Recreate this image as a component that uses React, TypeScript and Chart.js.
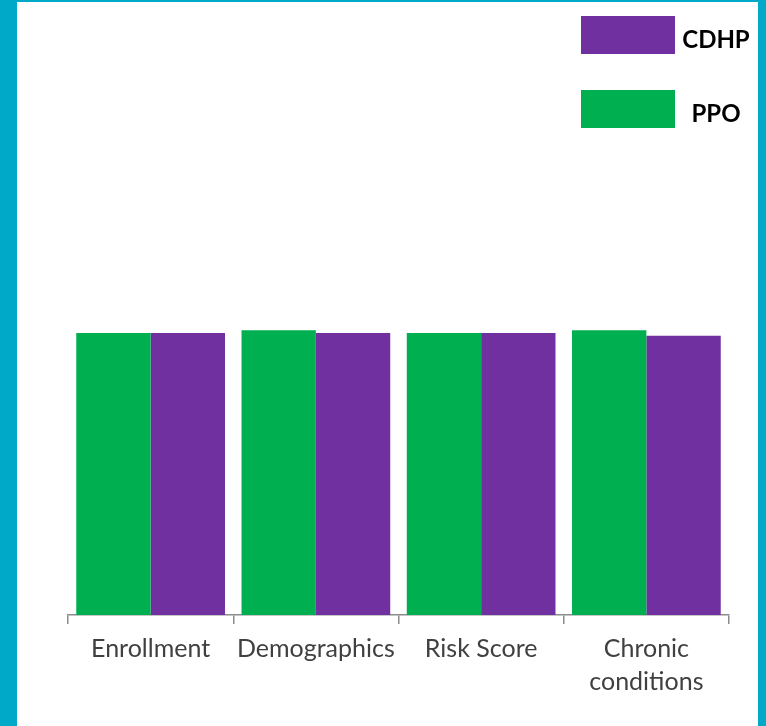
import React, { useEffect, useRef } from "react";
import { Chart, registerables } from "chart.js";

Chart.register(...registerables);

const categories: (string | string[])[] = ["Enrollment", "Demographics", "Risk Score", ["Chronic", "conditions"]];
const ppoValues = [1.0, 1.01, 1.0, 1.01];
const cdhpValues = [1.0, 1.0, 1.0, 0.99];
const seriesNames = ["PPO", "CDHP"];
const legendOrder = ["CDHP", "PPO"];

const GREEN = "#00B050";
const PURPLE = "#7030A0";
const TEAL = "#00A9C7";

export default function App() {
  const canvasRef = useRef<HTMLCanvasElement | null>(null);

  useEffect(() => {
    if (!canvasRef.current) return;
    const chart = new Chart(canvasRef.current, {
      type: "bar",
      data: {
        labels: categories,
        datasets: [
          { label: seriesNames[0], data: ppoValues, backgroundColor: GREEN, borderWidth: 0 },
          { label: seriesNames[1], data: cdhpValues, backgroundColor: PURPLE, borderWidth: 0 },
        ],
      },
      options: {
        animation: false,
        responsive: false,
        maintainAspectRatio: false,
        layout: { padding: { left: 68, right: 37, top: 51, bottom: 0 } },
        plugins: { legend: { display: false }, tooltip: { enabled: false } },
        datasets: { bar: { categoryPercentage: 0.9, barPercentage: 1.0 } },
        scales: {
          x: {
            grid: {
              offset: true,
              drawOnChartArea: false,
              drawTicks: true,
              tickLength: 9,
              color: "#8c8c8c",
              lineWidth: 1.5,
            },
            border: { display: true, color: "#8c8c8c", width: 1.5 },
            ticks: {
              color: "#404040",
              font: { family: "Lato", size: 25, lineHeight: 1.32 },
              padding: 8,
              maxRotation: 0,
              autoSkip: false,
            },
            afterFit: (scale: any) => {
              scale.height = 111;
            },
          },
          y: {
            display: false,
            min: 0,
            max: 2,
          },
        },
      },
    });
    return () => chart.destroy();
  }, []);

  const legendColors: Record<string, string> = { CDHP: PURPLE, PPO: GREEN };

  return (
    <div style={{ position: "fixed", left: 0, top: 0, width: 766, height: 726, background: "#ffffff", overflow: "hidden" }}>
      <canvas ref={canvasRef} width={766} height={726} style={{ position: "absolute", left: 0, top: 0, width: 766, height: 726 }} />
      <div style={{ position: "absolute", left: 0, top: 0, width: 17, height: 726, background: TEAL }} />
      <div style={{ position: "absolute", left: 0, top: 0, width: 766, height: 2, background: TEAL }} />
      <div style={{ position: "absolute", left: 758, top: 0, width: 8, height: 726, background: TEAL }} />
      {legendOrder.map((name, i) => (
        <div key={name} style={{ position: "absolute", left: 581, top: 16 + i * 74, width: 170, height: 38 }}>
          <div style={{ position: "absolute", left: 0, top: 0, width: 94, height: 38, background: legendColors[name] }} />
          <div
            style={{
              position: "absolute",
              left: 98,
              top: 0,
              width: 74,
              height: 38,
              lineHeight: "38px",
              textAlign: "center",
              fontFamily: "Lato",
              fontWeight: 700,
              fontSize: 24,
              color: "#000",
              marginTop: 4,
            }}
          >
            {name}
          </div>
        </div>
      ))}
    </div>
  );
}
